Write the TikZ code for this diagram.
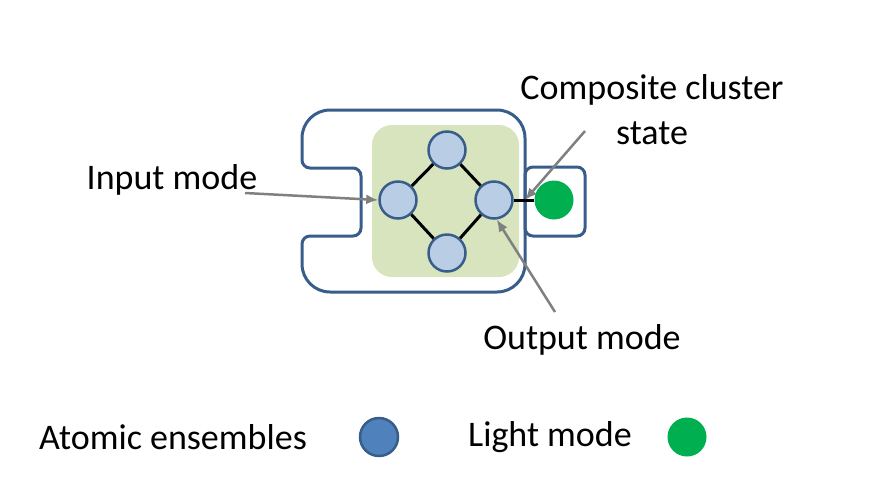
\documentclass[tikz,border=0pt]{standalone}
\usepackage{fontspec}
\setmainfont{Carlito}
\usetikzlibrary{arrows.meta,positioning}

\definecolor{atomfill}{HTML}{B9CDE5}
\definecolor{atomline}{HTML}{385D8A}
\definecolor{atomkey}{HTML}{4F81BD}
\definecolor{photongreen}{HTML}{00B050}
\definecolor{clusterbg}{HTML}{D7E4BD}
\definecolor{pointergray}{HTML}{808080}

\begin{document}
\begin{tikzpicture}[
    x=1pt, y=-1pt,
    every node/.style={font=\fontsize{36}{45}\selectfont, inner sep=0pt},
    atom/.style={circle, fill=atomfill, draw=atomline, line width=2.5pt, minimum size=37pt},
    atom key/.style={circle, fill=atomkey, draw=atomline, line width=2.5pt, minimum size=38pt},
    photon/.style={circle, fill=photongreen, minimum size=39pt},
    module/.style={draw=atomline, line width=3pt},
    bond/.style={line width=3pt, black},
    pointer/.style={-{Latex[length=12pt,width=10pt]}, line width=2.5pt, pointergray},
]
\useasboundingbox (0,0) rectangle (869,491);

% module with cluster
\fill[clusterbg, rounded corners=20] (372,125) rectangle (519,277);
\draw[module] (302,168) [rounded corners=28] -- (302,110) -- (525,110) -- (525,292) -- (302,292)
  [rounded corners=8] -- (302,236) -- (361,236) -- (361,168) -- cycle;
\draw[module, rounded corners=8] (525,167) rectangle (585,236);

\node[atom] (top) at (447,150) {};
\node[atom] (left) at (398,200) {};
\node[atom] (right) at (494,200) {};
\node[atom] (bottom) at (447,253) {};
\node[photon] (light) at (554,200) {};

\draw[bond] (top) -- (left);
\draw[bond] (top) -- (right);
\draw[bond] (bottom) -- (left);
\draw[bond] (bottom) -- (right);
\draw[bond] (right) -- (light) coordinate[pos=0.55] (junction);

% labels
\node (input) at (172,180) {Input mode};
\node[align=center] (composite) at (652,110) {Composite cluster\\state};
\node (output) at (582,340) {Output mode};

\coordinate (input tail) at (245,193);
\coordinate (composite tail) at (585,131);
\coordinate (output tail) at (555,312);
\draw[pointer] (input tail) -- (left.west);
\draw[pointer] (composite tail) -- (junction);
\draw[pointer] (output tail) -- (right.-82);

% legend
\node (atomic) at (173,437) {Atomic ensembles};
\node[atom key] (atomsym) at (379,437) {};
\node (lightlabel) at (550,437) {Light mode};
\node[photon] (lightsym) at (687,437) {};
\end{tikzpicture}
\end{document}
